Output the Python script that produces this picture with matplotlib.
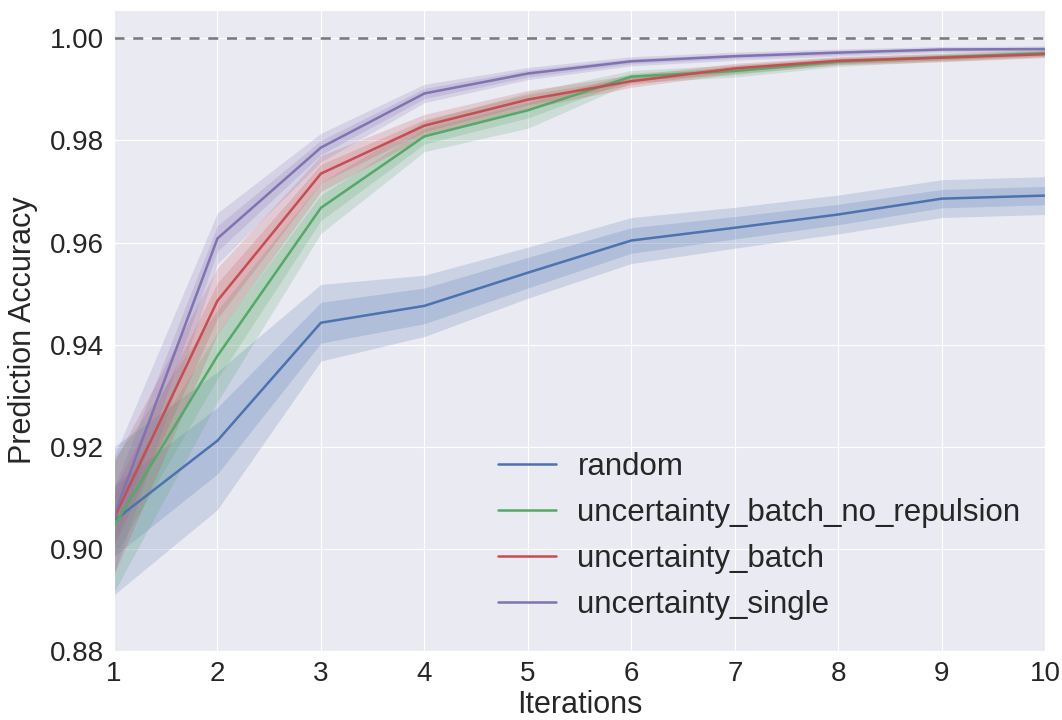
import matplotlib
matplotlib.use("Agg")
import matplotlib.pyplot as plt
import numpy as np
import seaborn as sns

# Data
iterations = [1, 2, 3, 4, 5, 6, 7, 8, 9, 10]

labels = ["random", "uncertainty_batch_no_repulsion", "uncertainty_batch", "uncertainty_single"]
colors = ["#4C72B0", "#55A868", "#C44E52", "#8172B2"]

# mean accuracy per iteration
random_mean = [0.9055, 0.9212, 0.9443, 0.9476, 0.9541, 0.9604, 0.9629, 0.9655, 0.9686, 0.9692]
no_rep_mean = [0.9045, 0.9378, 0.9668, 0.9808, 0.9859, 0.9925, 0.9936, 0.9954, 0.9963, 0.9971]
batch_mean = [0.9060, 0.9486, 0.9735, 0.9829, 0.9880, 0.9916, 0.9941, 0.9956, 0.9962, 0.9969]
single_mean = [0.9065, 0.9608, 0.9786, 0.9892, 0.9931, 0.9955, 0.9965, 0.9972, 0.9978, 0.9979]

# half widths of the inner (68%) and outer (95%) bands
random_in = [0.0070, 0.0065, 0.0040, 0.0035, 0.0030, 0.0025, 0.0022, 0.0020, 0.0018, 0.0018]
random_out = [0.0145, 0.0135, 0.0075, 0.0060, 0.0050, 0.0045, 0.0040, 0.0038, 0.0037, 0.0037]
no_rep_in = [0.0060, 0.0045, 0.0025, 0.0015, 0.0015, 0.0007, 0.0007, 0.0005, 0.0005, 0.0004]
no_rep_out = [0.0130, 0.0090, 0.0050, 0.0030, 0.0035, 0.0012, 0.0012, 0.0009, 0.0008, 0.0007]
batch_in = [0.0055, 0.0035, 0.0018, 0.0012, 0.0010, 0.0007, 0.0006, 0.0005, 0.0005, 0.0004]
batch_out = [0.0110, 0.0065, 0.0035, 0.0022, 0.0018, 0.0012, 0.0010, 0.0008, 0.0008, 0.0007]
single_in = [0.0055, 0.0025, 0.0014, 0.0010, 0.0007, 0.0005, 0.0004, 0.0004, 0.0003, 0.0003]
single_out = [0.0115, 0.0050, 0.0028, 0.0018, 0.0012, 0.0009, 0.0008, 0.0007, 0.0006, 0.0006]

means = [random_mean, no_rep_mean, batch_mean, single_mean]
inner = [random_in, no_rep_in, batch_in, single_in]
outer = [random_out, no_rep_out, batch_out, single_out]

sns.set_style("darkgrid")
plt.rcParams['font.family'] = ['Liberation Sans', 'DejaVu Sans']

fig = plt.figure(figsize=(10.62, 7.2), dpi=100)
ax = fig.add_axes([0.1073, 0.0958, 0.877, 0.890])

x = np.array(iterations)
for m, hw_in, hw_out, c, lab in zip(means, inner, outer, colors, labels):
    m = np.array(m)
    ax.fill_between(x, m - np.array(hw_out), m + np.array(hw_out),
                    color=c, alpha=0.2, linewidth=0)
    ax.fill_between(x, m - np.array(hw_in), m + np.array(hw_in),
                    color=c, alpha=0.2, linewidth=0)
    ax.plot(x, m, color=c, linewidth=1.8, label=lab)

ax.axhline(1.0, color="#777777", linestyle="--", linewidth=1.8, dashes=(4, 3.5))

ax.set_xlim(1, 10)
ax.set_ylim(0.88, 1.0055)
ax.set_xticks(iterations)
ax.set_yticks([0.88, 0.90, 0.92, 0.94, 0.96, 0.98, 1.00])
ax.set_yticklabels(["0.88", "0.90", "0.92", "0.94", "0.96", "0.98", "1.00"])
ax.tick_params(labelsize=20, colors="#262626", pad=4)

ax.set_xlabel("Iterations", fontsize=22, color="#262626", labelpad=2)
ax.set_ylabel("Prediction Accuracy", fontsize=22, color="#262626", labelpad=8)

ax.legend(loc="lower right", fontsize=22.5, frameon=False, handlelength=1.85,
          handletextpad=0.68, labelspacing=0.51, bbox_to_anchor=(1.0036, 0.005))

fig.savefig("out.png", dpi=100)
